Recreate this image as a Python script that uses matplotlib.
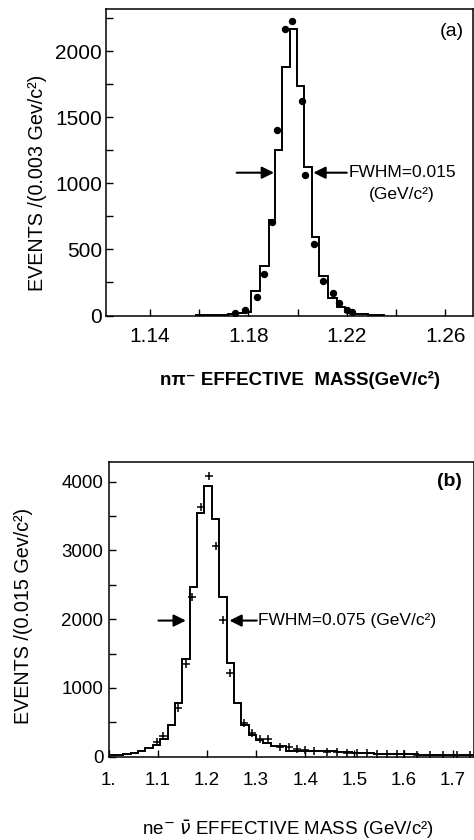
import matplotlib
matplotlib.use("Agg")
import matplotlib.pyplot as plt
from matplotlib.ticker import FixedLocator, MultipleLocator, FixedFormatter, NullFormatter

# ---------------- data: panel (a) n pi- effective mass ----------------
a_edges = [1.1587, 1.1619, 1.1651, 1.1683, 1.1715, 1.1747, 1.1779, 1.1811,
           1.1847, 1.1882, 1.1909, 1.1937, 1.1969, 1.1996, 1.2026, 1.2057,
           1.2088, 1.2125, 1.2159, 1.2191, 1.2223, 1.2255, 1.2287, 1.2319, 1.2351]
a_counts = [2, 3, 4, 6, 12, 18, 30,
            187, 375, 720, 1255, 1880, 2170, 1735, 1120, 595, 300, 130, 65, 30, 15, 8, 5, 3]
a_dot_x = [1.1746, 1.1786, 1.1834, 1.1865, 1.1895, 1.1917, 1.1949, 1.1978,
           1.2019, 1.2030, 1.2068, 1.2102, 1.2145, 1.2170, 1.2200, 1.2220]
a_dot_y = [17, 42, 137, 316, 710, 1403, 2165, 2229,
           1624, 1060, 538, 263, 168, 92, 42, 29]
a_xticks = [1.14, 1.18, 1.22, 1.26]
a_xticklabels = ["1.14", "1.18", "1.22", "1.26"]
a_xminor = [1.16, 1.20, 1.24]
a_yticks = [0, 500, 1000, 1500, 2000]

# ---------------- data: panel (b) n e- nubar effective mass ----------------
b_edges = [1.0 + 0.015 * i for i in range(51)]
b_counts = [19, 29, 44, 58, 85, 121, 170, 262, 455, 786,
            1426, 2473, 3540, 3937, 3457, 2318, 1358, 786, 461, 315,
            243, 194, 160, 150, 88, 86, 84, 82, 80, 78,
            76, 74, 72, 60, 58, 56, 46, 44, 42, 40,
            34, 32, 31, 30, 29, 28, 27, 26, 25, 24]
b_pt_x = [1.0996, 1.1118, 1.1423, 1.1573, 1.1707, 1.1878, 1.2047, 1.2189, 1.2325,
          1.2474, 1.2750, 1.2915, 1.3083, 1.3250, 1.349, 1.368, 1.383, 1.400,
          1.417, 1.444, 1.464, 1.485, 1.505, 1.525, 1.546, 1.566, 1.586, 1.600,
          1.627, 1.654, 1.681, 1.708, 1.735]
b_pt_y = [218, 301, 704, 1344, 2327, 3636, 4083, 3065, 1988,
          1222, 490, 340, 260, 258, 145, 136, 116, 97,
          83, 68, 63, 58, 58, 49, 44, 39, 34, 39,
          29, 24, 24, 29, 19]
b_xticks = [1.0, 1.1, 1.2, 1.3, 1.4, 1.5, 1.6, 1.7]
b_xticklabels = ["1.", "1.1", "1.2", "1.3", "1.4", "1.5", "1.6", "1.7"]
b_yticks = [0, 1000, 2000, 3000, 4000]

# ---------------- figure ----------------
W, H = 474, 840
fig = plt.figure(figsize=(W / 100, H / 100), dpi=100)
FAM = ["Liberation Sans", "DejaVu Sans"]


def px_axes(l, t, r, b):
    return fig.add_axes([l / W, 1 - b / H, (r - l) / W, (b - t) / H])


def style(ax, xpad, ypad, fs, fam):
    for s in ax.spines.values():
        s.set_linewidth(1.1)
    ax.tick_params(which="both", direction="in", length=5, width=1.0,
                   top=False, right=False)
    ax.tick_params(axis="x", which="both", pad=xpad, labelsize=fs)
    ax.tick_params(axis="y", which="both", pad=ypad, labelsize=fs)
    for lab in ax.get_xticklabels() + ax.get_yticklabels():
        lab.set_family(fam)


# ---- panel (a)
axA = px_axes(106, 9, 473, 315.5)
axA.stairs(a_counts, a_edges, color="black", lw=1.4, baseline=0)
axA.plot(a_dot_x, a_dot_y, "o", color="black", ms=4.3, ls="none")
axA.set_xlim(1.1221, 1.2713)
axA.set_ylim(0, 2318)
axA.xaxis.set_major_locator(FixedLocator(a_xticks))
axA.xaxis.set_major_formatter(FixedFormatter(a_xticklabels))
axA.xaxis.set_minor_locator(FixedLocator(a_xminor))
axA.xaxis.set_minor_formatter(NullFormatter())
axA.yaxis.set_major_locator(FixedLocator(a_yticks))
axA.yaxis.set_minor_locator(MultipleLocator(250))
style(axA, 8, 3, 15, FAM)

arrow = dict(arrowstyle="-|>", lw=1.5, color="black", mutation_scale=18,
             shrinkA=0, shrinkB=0)
axA.annotate("", xy=(1.1904, 1080), xytext=(1.1752, 1080), arrowprops=arrow)
axA.annotate("", xy=(1.2064, 1080), xytext=(1.2200, 1080), arrowprops=arrow)
axA.text(1.2208, 1080, "FWHM=0.015", fontsize=12.5, family=FAM,
         ha="left", va="center")
axA.text(1.2424, 918, "(GeV/c²)", fontsize=12.5, family=FAM,
         ha="center", va="center")
axA.text(0.943, 0.925, "(a)", transform=axA.transAxes, fontsize=14,
         family=FAM, ha="center", va="center")

fig.text(38 / W, 1 - 183 / H, "EVENTS /(0.003 Gev/c²)", rotation=90,
         fontsize=14.2, family=FAM, ha="center", va="center")
fig.text(300 / W, 1 - 380 / H, "nπ⁻ EFFECTIVE  MASS(GeV/c²)",
         fontsize=13.5, family=FAM, weight="bold", ha="center", va="center")

# ---- panel (b)
axB = px_axes(108.5, 462.3, 474, 756.7)
axB.stairs(b_counts, b_edges, color="black", lw=1.4, baseline=0)
axB.plot(b_pt_x, b_pt_y, "+", color="black", ms=6, mew=1.1, ls="none")
axB.set_xlim(1.0, 1.7433)
axB.set_ylim(0, 4282)
axB.xaxis.set_major_locator(FixedLocator(b_xticks))
axB.xaxis.set_major_formatter(FixedFormatter(b_xticklabels))
axB.yaxis.set_major_locator(FixedLocator(b_yticks))
axB.yaxis.set_minor_locator(MultipleLocator(500))
style(axB, 10.8, 3.7, 13.5, FAM)

axB.annotate("", xy=(1.1573, 1980), xytext=(1.1016, 1980), arrowprops=arrow)
axB.annotate("", xy=(1.2459, 1980), xytext=(1.3016, 1980), arrowprops=arrow)
axB.text(1.3049, 1980, "FWHM=0.075 (GeV/c²)", fontsize=12.5, family=FAM,
         ha="left", va="center")
axB.text(0.934, 0.934, "(b)", transform=axB.transAxes, fontsize=14,
         family=FAM, weight="bold", ha="center", va="center")

fig.text(23.5 / W, 1 - 616 / H, "EVENTS /(0.015 Gev/c²)", rotation=90,
         fontsize=14.2, family=FAM, ha="center", va="center")
fig.text(287.5 / W, 1 - 830 / H, r"ne$^{-}$ $\bar{\nu}$ EFFECTIVE MASS (GeV/c²)",
         fontsize=13.5, family=FAM, ha="center", va="center")

fig.savefig("out.png", dpi=100)
